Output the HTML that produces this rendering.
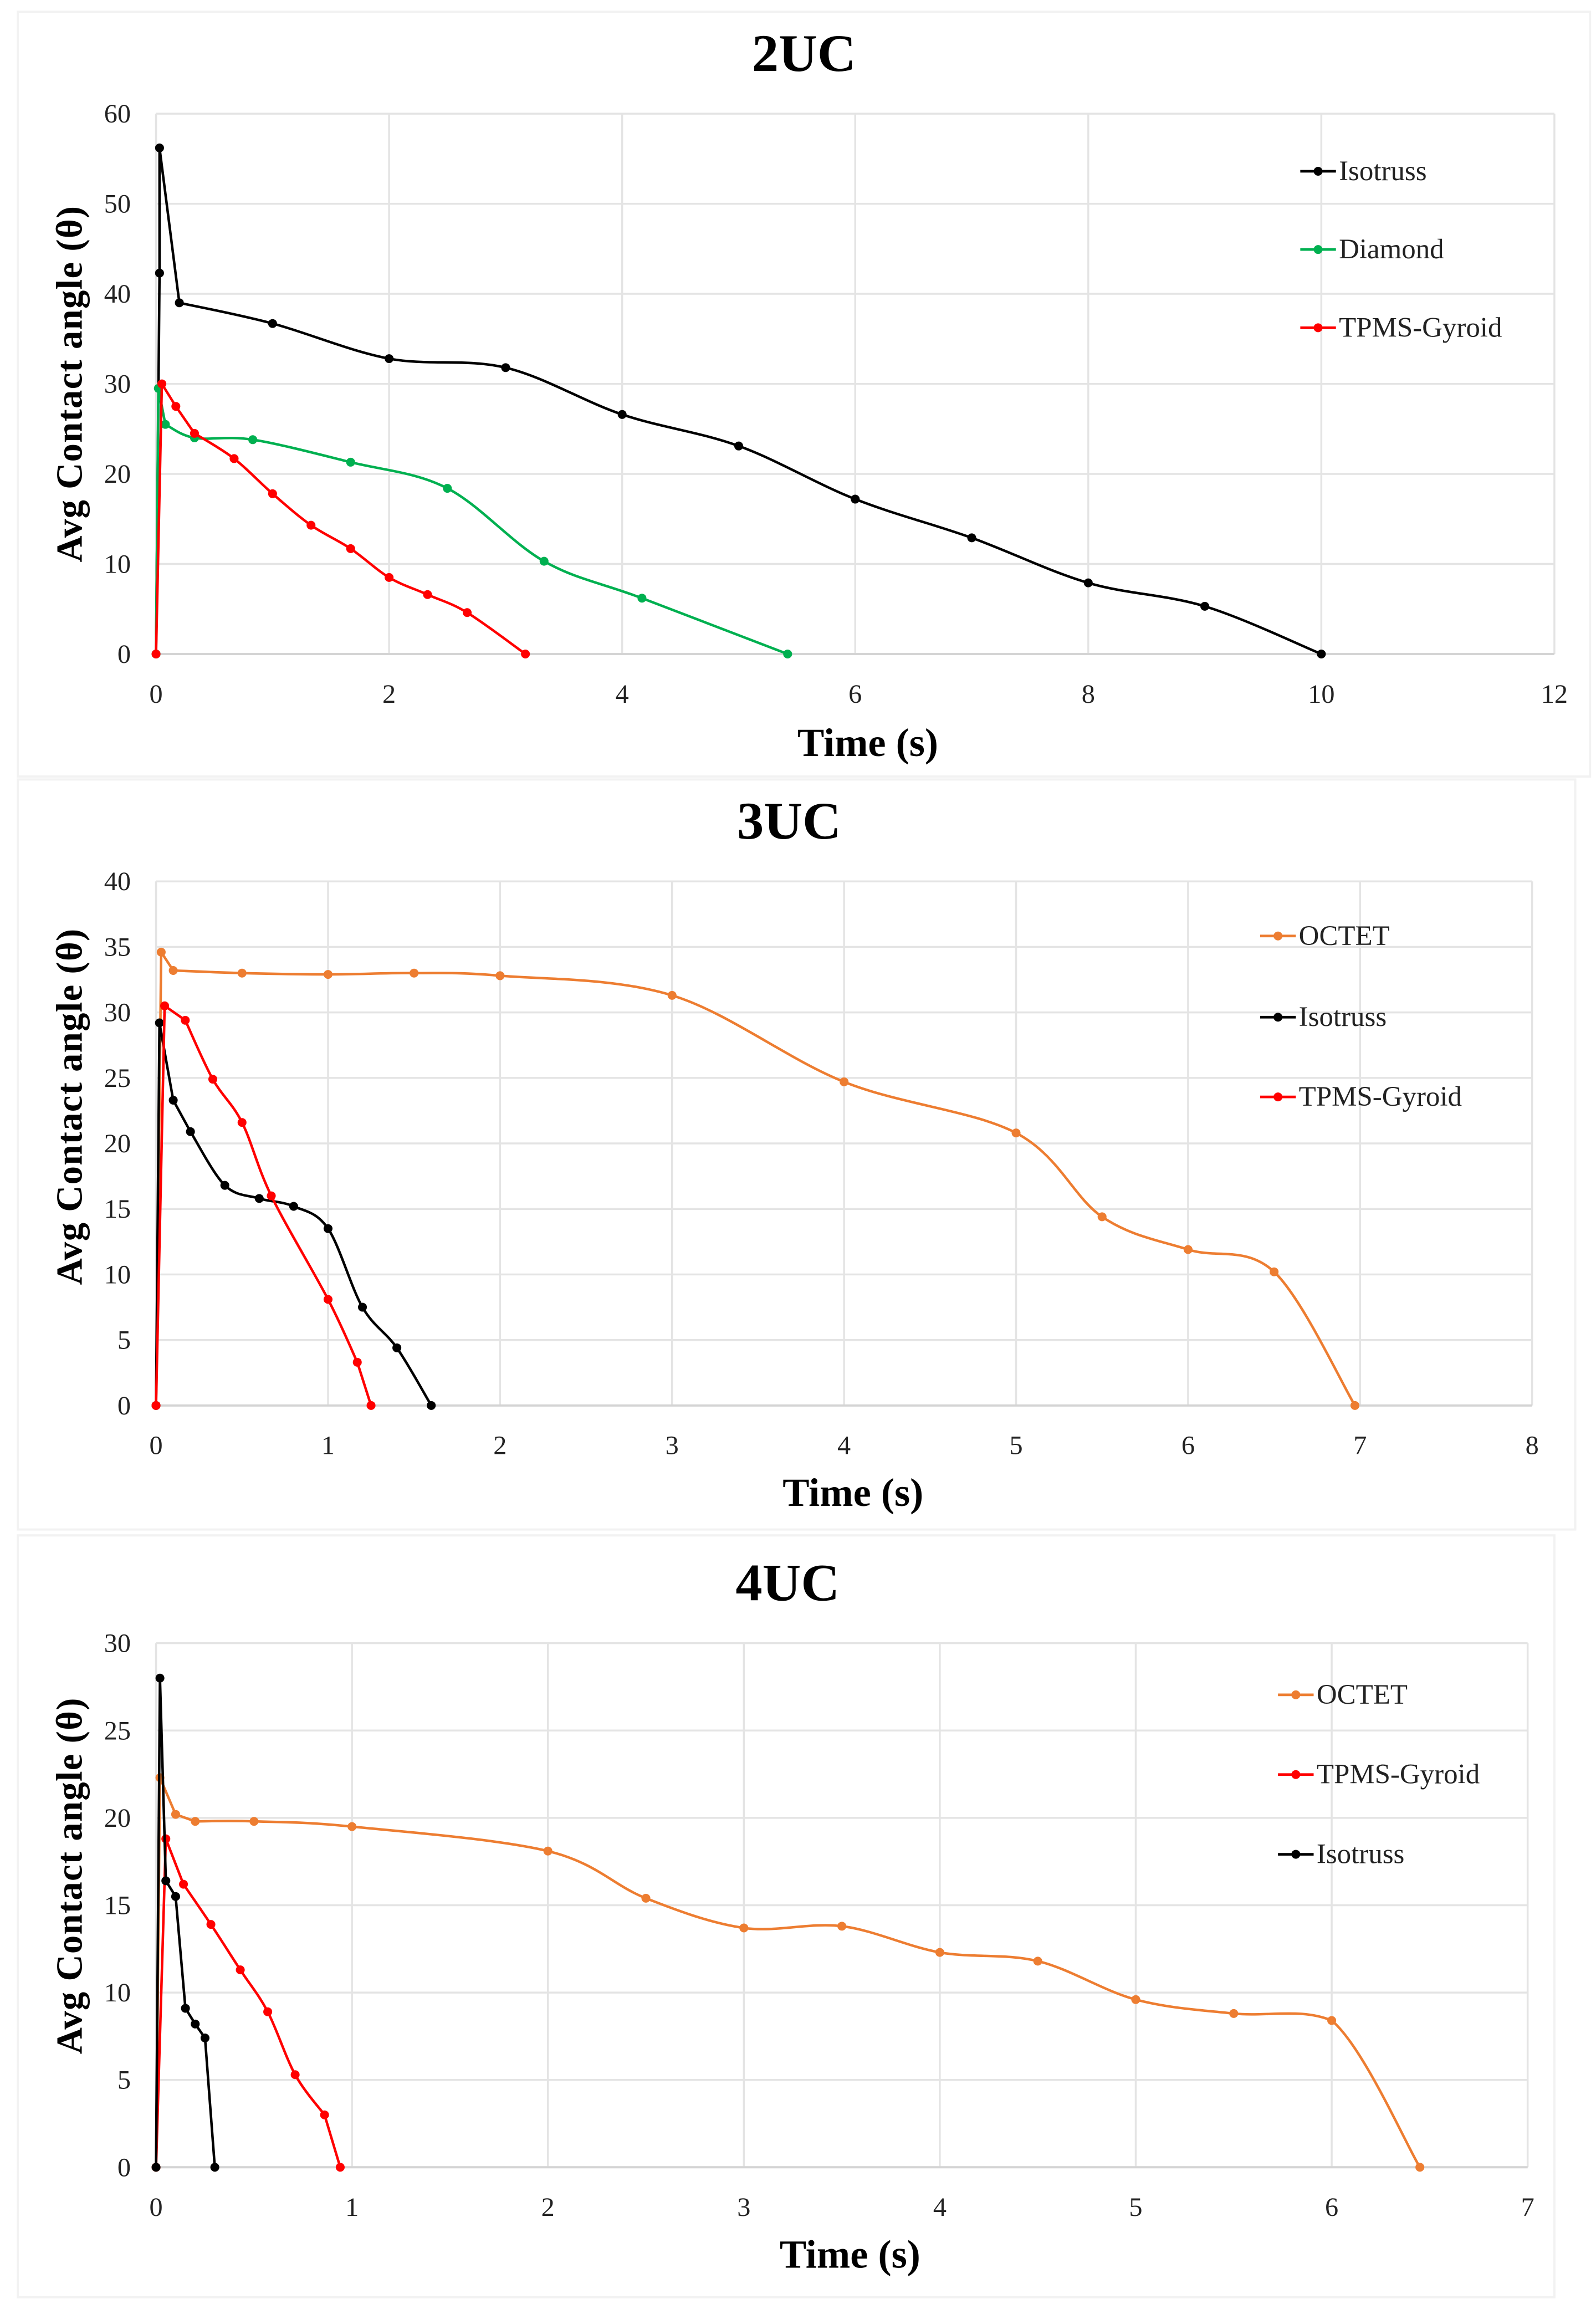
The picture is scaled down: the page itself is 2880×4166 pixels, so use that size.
<!DOCTYPE html>
<html><head><meta charset="utf-8"><style>
html,body{margin:0;padding:0;background:#fff}
svg{display:block}
text{font-family:"Liberation Serif",serif}
</style></head><body>
<svg id="fig" width="2880" height="4166" viewBox="0 0 1074 1564" preserveAspectRatio="none" xmlns="http://www.w3.org/2000/svg">
<rect x="0" y="0" width="1074" height="1564" fill="#fff"/>
<rect x="12" y="8" width="1058" height="518" fill="none" stroke="#f2f2f2" stroke-width="1.5"/>
<rect x="12" y="528" width="1048" height="508" fill="none" stroke="#f2f2f2" stroke-width="1.5"/>
<rect x="12" y="1040" width="1034" height="516" fill="none" stroke="#f2f2f2" stroke-width="1.5"/>
</svg>
<script>
// ---- Chart 2UC data ----
const uc2Iso_t = [0,0.03,0.03,0.2,1,2,3,4,5,6,7,8,9,10];
const uc2Iso_v = [0,42.3,56.2,39,36.7,32.8,31.8,26.6,23.1,17.2,12.9,7.9,5.3,0];
const uc2Dia_t = [0,0.02,0.08,0.33,0.83,1.67,2.5,3.33,4.17,5.42];
const uc2Dia_v = [0,29.5,25.5,24,23.8,21.3,18.4,10.3,6.2,0];
const uc2Gyr_t = [0,0.05,0.17,0.33,0.67,1,1.33,1.67,2,2.33,2.67,3.17];
const uc2Gyr_v = [0,30,27.5,24.5,21.7,17.8,14.3,11.7,8.5,6.6,4.6,0];
const uc2XTicks = [0,2,4,6,8,10,12];
const uc2YTicks = [0,10,20,30,40,50,60];
// ---- Chart 3UC data ----
const uc3Oct_t = [0,0.03,0.1,0.5,1,1.5,2,3,4,5,5.5,6,6.5,6.97];
const uc3Oct_v = [0,34.6,33.2,33,32.9,33,32.8,31.3,24.7,20.8,14.4,11.9,10.2,0];
const uc3Iso_t = [0,0.02,0.1,0.2,0.4,0.6,0.8,1,1.2,1.4,1.6];
const uc3Iso_v = [0,29.2,23.3,20.9,16.8,15.8,15.2,13.5,7.5,4.4,0];
const uc3Gyr_t = [0,0.05,0.17,0.33,0.5,0.67,1,1.17,1.25];
const uc3Gyr_v = [0,30.5,29.4,24.9,21.6,16,8.1,3.3,0];
const uc3XTicks = [0,1,2,3,4,5,6,7,8];
const uc3YTicks = [0,5,10,15,20,25,30,35,40];
// ---- Chart 4UC data ----
const uc4Oct_t = [0,0.02,0.1,0.2,0.5,1,2,2.5,3,3.5,4,4.5,5,5.5,6,6.45];
const uc4Oct_v = [0,22.3,20.2,19.8,19.8,19.5,18.1,15.4,13.7,13.8,12.3,11.8,9.6,8.8,8.4,0];
const uc4Gyr_t = [0,0.05,0.14,0.28,0.43,0.57,0.71,0.86,0.94];
const uc4Gyr_v = [0,18.8,16.2,13.9,11.3,8.9,5.3,3,0];
const uc4Iso_t = [0,0.02,0.05,0.1,0.15,0.2,0.25,0.3];
const uc4Iso_v = [0,28,16.4,15.5,9.1,8.2,7.4,0];
const uc4XTicks = [0,1,2,3,4,5,6,7];
const uc4YTicks = [0,5,10,15,20,25,30];

const NS="http://www.w3.org/2000/svg";
const svg=document.getElementById('fig');
function mk(tag,attrs,parent){const e=document.createElementNS(NS,tag);for(const k in attrs)e.setAttribute(k,attrs[k]);(parent||svg).appendChild(e);return e;}

function smoothPath(pts){
  if(pts.length<2)return '';
  let d='M'+pts[0][0]+','+pts[0][1];
  const near=(a,b)=>Math.abs(b[0]-a[0])<14;
  for(let i=0;i<pts.length-1;i++){
    let p0=pts[Math.max(0,i-1)],p1=pts[i],p2=pts[i+1],p3=pts[Math.min(pts.length-1,i+2)];
    const dx=p2[0]-p1[0];
    if(near(p1,p2)){ d+=' L'+p2[0]+','+p2[1]; continue; }
    if(near(p0,p1)) p0=p1;
    if(near(p2,p3)) p3=p2;
    const t=1/6;
    let c1=[p1[0]+(p2[0]-p0[0])*t,p1[1]+(p2[1]-p0[1])*t];
    let c2=[p2[0]-(p3[0]-p1[0])*t,p2[1]-(p3[1]-p1[1])*t];
    const lo=Math.min(p1[1],p2[1])-4,hi=Math.max(p1[1],p2[1])+4;
    c1[1]=Math.max(lo,Math.min(hi,c1[1]));c2[1]=Math.max(lo,Math.min(hi,c2[1]));
    c1[0]=Math.max(p1[0],Math.min(p2[0],c1[0]));c2[0]=Math.max(p1[0],Math.min(p2[0],c2[0]));
    d+=' C'+c1[0]+','+c1[1]+' '+c2[0]+','+c2[1]+' '+p2[0]+','+p2[1];
  }
  return d;
}

function chart(cfg){
  const g=mk('g',{});
  
  
  const xs=v=>cfg.L+(v-cfg.xmin)/(cfg.xmax-cfg.xmin)*(cfg.R-cfg.L);
  const ys=v=>cfg.B-(v-cfg.ymin)/(cfg.ymax-cfg.ymin)*(cfg.B-cfg.T);
  cfg.yTicks.forEach(v=>{
    const l=mk('line',{x1:cfg.L,x2:cfg.R,y1:ys(v),y2:ys(v),stroke:'#e4e4e4','stroke-width':1.3},g);
    
    
    const t=mk('text',{x:cfg.L-17,y:ys(v)+6,'font-size':18,'text-anchor':'end',fill:'#222'},g);
    t.textContent=v;
    
    
  });
  cfg.xTicks.forEach(v=>{
    const l=mk('line',{x1:xs(v),x2:xs(v),y1:cfg.T,y2:cfg.B,stroke:'#e4e4e4','stroke-width':1.3},g);
    
    
    const t=mk('text',{x:xs(v),y:cfg.B+33,'font-size':18,'text-anchor':'middle',fill:'#222'},g);
    t.textContent=v;
    
    
  });
  const ax=mk('line',{x1:cfg.L,x2:cfg.R,y1:cfg.B,y2:cfg.B,stroke:'#d4d4d4','stroke-width':1.5},g);
  
  
  const ti=mk('text',{x:cfg.titleX,y:cfg.titleY,'font-size':36,'font-weight':'bold','text-anchor':'middle',fill:'#000'},g);
  ti.textContent=cfg.title;
  
  
  const xl=mk('text',{x:cfg.xlX,y:cfg.xlY,'font-size':27,'font-weight':'bold','text-anchor':'middle',fill:'#000'},g);
  xl.textContent='Time (s)';
  
  
  const yc=(cfg.T+cfg.B)/2+cfg.ylOff;
  const yl=mk('text',{x:55,y:yc,'font-size':25,'font-weight':'bold','text-anchor':'middle',fill:'#000',transform:'rotate(-90 55 '+yc+')','letter-spacing':'0.5'},g);
  yl.textContent='Avg Contact angle (θ)';
  
  
  cfg.series.forEach((s,si)=>{
    const pts=s.t.map((t,i)=>[xs(t),ys(s.v[i])]);
    const p=mk('path',{d:smoothPath(pts),fill:'none',stroke:s.color,'stroke-width':1.7},g);
    
    
    pts.forEach(pt=>{
      const c=mk('circle',{cx:pt[0],cy:pt[1],r:3,fill:s.color},g);
      
      
    });
    const ly=cfg.legY[si];
    const lg=mk('g',{},g);
    
    
    mk('line',{x1:cfg.legX,x2:cfg.legX+24,y1:ly,y2:ly,stroke:s.color,'stroke-width':1.8},lg);
    mk('circle',{cx:cfg.legX+12,cy:ly,r:3,fill:s.color},lg);
    const lt=mk('text',{x:cfg.legX+26,y:ly+6,'font-size':19,fill:'#222'},lg);
    lt.textContent=s.label;
  });
}

chart({name:'chart-2uc',title:'2UC',titleX:541,titleY:48,xlX:584,xlY:512,ylOff:0,
  L:105,R:1046,T:77,B:443,xmin:0,xmax:12,ymin:0,ymax:60,xTicks:uc2XTicks,yTicks:uc2YTicks,
  legX:875,legY:[116,169,222],
  series:[
    {key:'isotruss',label:'Isotruss',color:'#000000',t:uc2Iso_t,v:uc2Iso_v},
    {key:'diamond',label:'Diamond',color:'#00b050',t:uc2Dia_t,v:uc2Dia_v},
    {key:'tpms-gyroid',label:'TPMS-Gyroid',color:'#ff0000',t:uc2Gyr_t,v:uc2Gyr_v}
  ]});
chart({name:'chart-3uc',title:'3UC',titleX:531,titleY:568,xlX:574,xlY:1020,ylOff:-25,
  L:105,R:1031,T:597,B:952,xmin:0,xmax:8,ymin:0,ymax:40,xTicks:uc3XTicks,yTicks:uc3YTicks,
  legX:848,legY:[634,689,743],
  series:[
    {key:'octet',label:'OCTET',color:'#ed7d31',t:uc3Oct_t,v:uc3Oct_v},
    {key:'isotruss',label:'Isotruss',color:'#000000',t:uc3Iso_t,v:uc3Iso_v},
    {key:'tpms-gyroid',label:'TPMS-Gyroid',color:'#ff0000',t:uc3Gyr_t,v:uc3Gyr_v}
  ]});
chart({name:'chart-4uc',title:'4UC',titleX:530,titleY:1084,xlX:572,xlY:1536,ylOff:-20,
  L:105,R:1028,T:1113,B:1468,xmin:0,xmax:7,ymin:0,ymax:30,xTicks:uc4XTicks,yTicks:uc4YTicks,
  legX:860,legY:[1148,1202,1256],
  series:[
    {key:'octet',label:'OCTET',color:'#ed7d31',t:uc4Oct_t,v:uc4Oct_v},
    {key:'tpms-gyroid',label:'TPMS-Gyroid',color:'#ff0000',t:uc4Gyr_t,v:uc4Gyr_v},
    {key:'isotruss',label:'Isotruss',color:'#000000',t:uc4Iso_t,v:uc4Iso_v}
  ]});
</script>
</body></html>
